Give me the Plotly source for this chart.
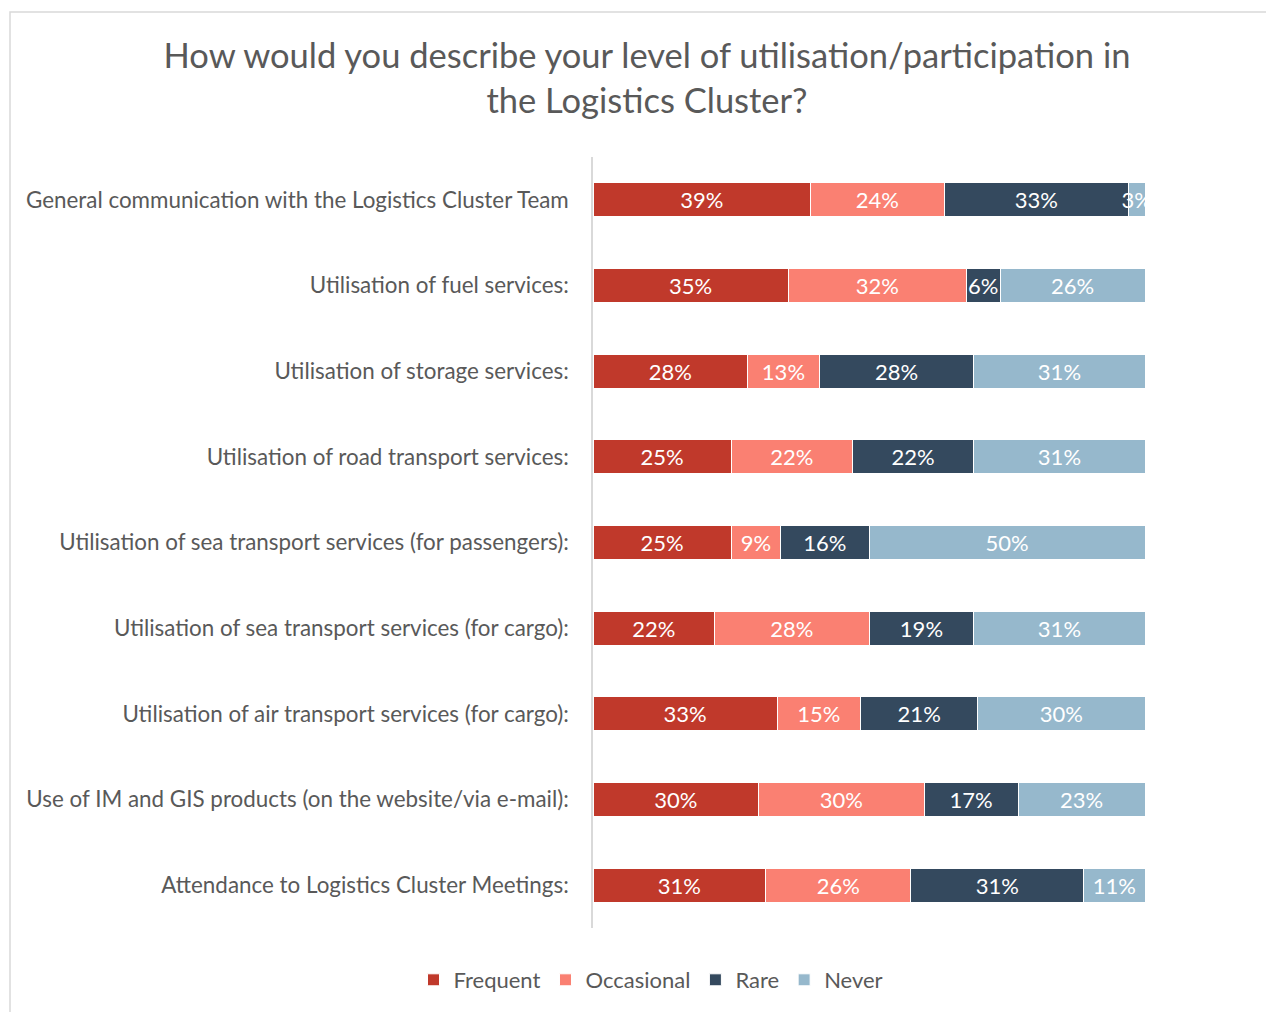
import plotly.graph_objects as go

categories = [
    "General communication with the Logistics Cluster Team",
    "Utilisation of fuel services:",
    "Utilisation of storage services:",
    "Utilisation of road transport services:",
    "Utilisation of sea transport services (for passengers):",
    "Utilisation of sea transport services (for cargo):",
    "Utilisation of air transport services (for cargo):",
    "Use of IM and GIS products (on the website/via e-mail):",
    "Attendance to Logistics Cluster Meetings:",
]
frequent = [39, 35, 28, 25, 25, 22, 33, 30, 31]
occasional = [24, 32, 13, 22, 9, 28, 15, 30, 26]
rare = [33, 6, 28, 22, 16, 19, 21, 17, 31]
never = [3, 26, 31, 31, 50, 31, 30, 23, 11]

series = [
    ("Frequent", frequent, "#C0392B"),
    ("Occasional", occasional, "#FA8072"),
    ("Rare", rare, "#34495E"),
    ("Never", never, "#96B8CC"),
]

# page is rendered with an 8px body margin
OFF = 8
W, H = 1274 - OFF, 1012 - OFF
ML, MR, MT = 593 - OFF, 129, 157 - OFF
PH = 771
MB = H - MT - PH
FONT = "Lato, 'Open Sans', sans-serif"

fig = go.Figure()
for name, vals, color in series:
    fig.add_trace(go.Bar(
        name=name,
        y=categories,
        x=vals,
        orientation="h",
        marker=dict(color=color, line=dict(color="white", width=1)),
        text=[f"{v}%" for v in vals],
        textposition="inside",
        insidetextanchor="middle",
        constraintext="none",
        textangle=0,
        textfont=dict(color="white", size=22, family=FONT),
        width=0.4,
    ))

pw = W - ML - MR
ph = PH
fig.add_shape(
    type="rect", xref="paper", yref="paper",
    x0=(10 - OFF - ML) / pw, x1=(W + 20 - ML) / pw,
    y0=-(MB + 20) / ph, y1=(ph + MT - (12 - OFF)) / ph,
    line=dict(color="#D9D9D9", width=1.5), fillcolor="rgba(0,0,0,0)", layer="below",
)

fig.update_layout(
    width=W, height=H,
    margin=dict(l=ML, r=MR, t=MT, b=MB),
    barmode="stack",
    barnorm="percent",
    plot_bgcolor="white",
    paper_bgcolor="white",
    font=dict(family=FONT, color="#595959"),
    title=dict(
        text="How would you describe your level of utilisation/participation in<br>the Logistics Cluster?",
        x=(647 - OFF) / W, xanchor="center",
        y=1 - 60 / H, yanchor="middle",
        font=dict(size=34.5, color="#595959", family=FONT),
    ),
    xaxis=dict(range=[0, 100], visible=False, fixedrange=True),
    yaxis=dict(
        autorange=False, range=[8.5, -0.5],
        categoryorder="array", categoryarray=categories,
        showline=True, linecolor="#D9D9D9", linewidth=1.5,
        ticks="", showgrid=False,
        tickfont=dict(size=22.4, color="#595959", family=FONT),
        ticklabelstandoff=18,
    ),
    legend=dict(
        orientation="h", x=(651 - OFF) / W, xref="container", xanchor="center",
        y=1 - (980 - OFF) / H, yref="container", yanchor="middle",
        font=dict(size=22, color="#595959", family=FONT),
        traceorder="normal", itemwidth=30,
    ),
    showlegend=True,
)

fig.write_html("out.html")
